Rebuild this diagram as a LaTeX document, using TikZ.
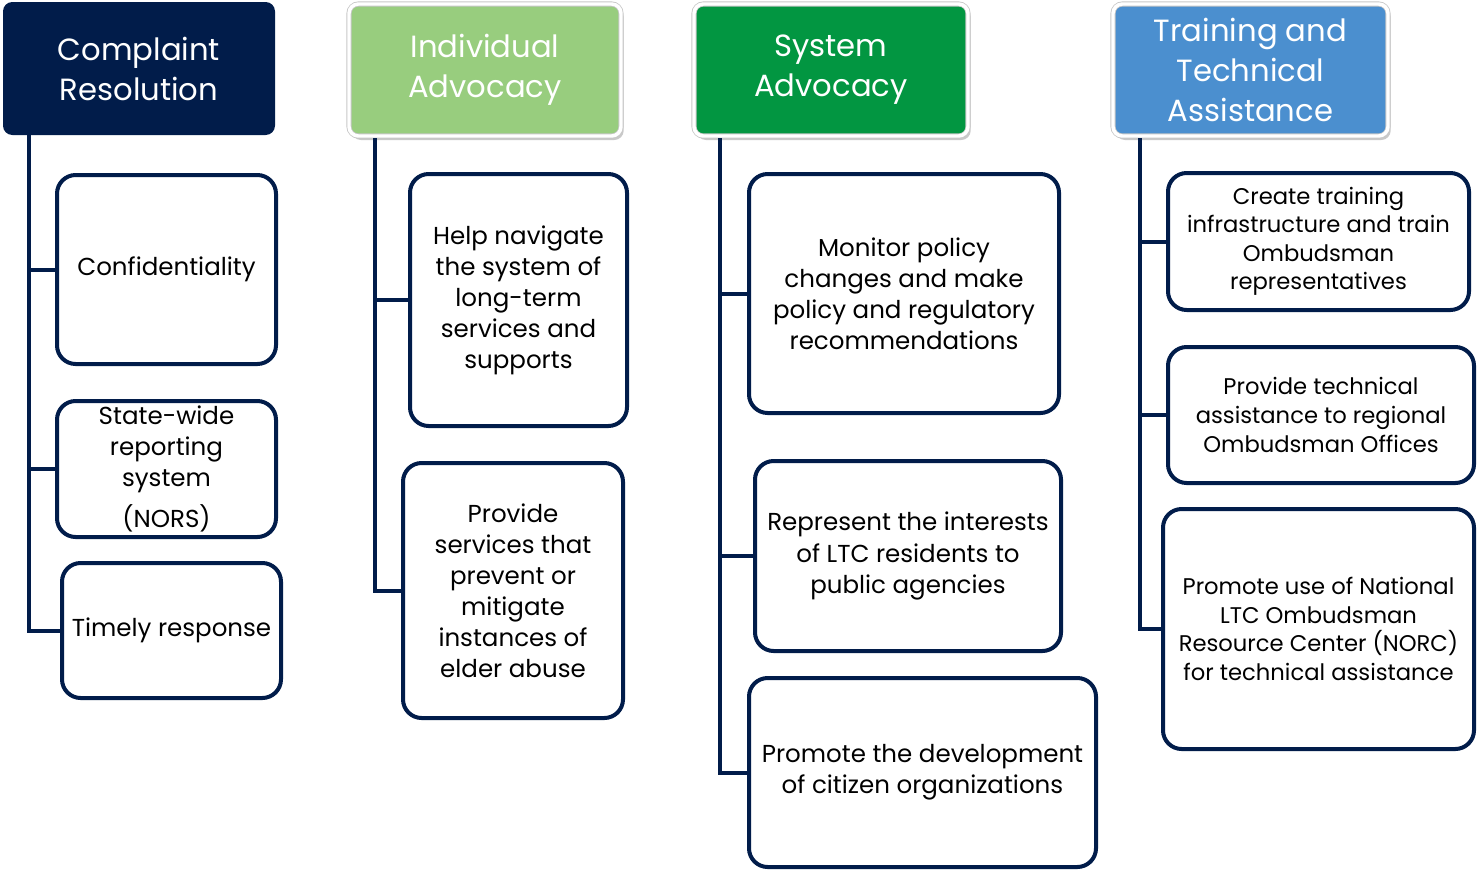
\documentclass[tikz,border=0pt]{standalone}
\usepackage{fontspec}
\setmainfont{Poppins}
\usetikzlibrary{shadows}
\definecolor{navy}{HTML}{011C4A}
\definecolor{lgreen}{HTML}{98CD7E}
\definecolor{dgreen}{HTML}{029641}
\definecolor{tblue}{HTML}{4B8FCF}
\tikzset{
  span/.style n args={4}{at={({(#1+#3)/2},{(#2+#4)/2})},
    minimum width={(#3-#1)*0.75pt}, minimum height={(#4-#2)*0.75pt}},
  hdr/.style={rounded corners=7pt, inner sep=0pt, text=white, align=center,
    font=\fontsize{23}{30}\selectfont},
  hdrsh/.style={hdr, fill=#1, draw=black!22, line width=0.6pt, double=white, double distance=2.6pt,
    drop shadow={shadow xshift=2pt, shadow yshift=-3pt, opacity=0.3, fill=black!70}},
  child/.style={draw=navy, line width=3pt, rounded corners=14pt, fill=white, inner sep=0pt,
    align=center, text=black, font=\fontsize{18.4}{23.3}\selectfont},
  childs/.style={child, font=\fontsize{17}{21.4}\selectfont},
  conn/.style={draw=navy, line width=3pt},
}
\begin{document}
\begin{tikzpicture}[x=0.75pt,y=-0.75pt]
\useasboundingbox (0,0) rectangle (1479,872);
% headers
\node[hdr, fill=navy, span={3}{2}{275}{135}] (h1) {Complaint\\Resolution};
\node[hdrsh=lgreen, span={349}{4}{621}{136}] (h2) {Individual\\Advocacy};
\node[hdrsh=dgreen, span={694}{4}{968}{136}] (h3) {System\\Advocacy};
\node[hdrsh=tblue, span={1113}{4}{1388}{136}] (h4) {Training and\\Technical\\Assistance};
% column 1
\node[child, span={57}{175}{276}{364}] (c11) {Confidentiality};
\node[child, span={57}{401}{276}{537}] (c12) {State-wide\\reporting\\system\\[8pt](NORS)};
\node[child, span={62}{563}{281}{698}] (c13) {Timely response};
% column 2
\node[child, span={410}{174}{627}{426}] (c21) {Help navigate\\the system of\\long-term\\services and\\supports};
\node[child, span={403}{463}{623}{718}] (c22) {Provide\\services that\\prevent or\\mitigate\\instances of\\elder abuse};
% column 3
\node[child, span={749}{174}{1059}{413}] (c31) {Monitor policy\\changes and make\\policy and regulatory\\recommendations};
\node[child, span={755}{461}{1061}{651}] (c32) {Represent the interests\\of LTC residents to\\public agencies};
\node[child, span={749}{678}{1096}{867}] (c33) {Promote the development\\of citizen organizations};
% column 4
\node[childs, span={1168}{173}{1469}{310}] (c41) {Create training\\infrastructure and train\\Ombudsman\\representatives};
\node[childs, span={1168}{347}{1474}{483}] (c42) {Provide technical\\assistance to regional\\Ombudsman Offices};
\node[childs, span={1163}{509}{1474}{749}] (c43) {Promote use of National\\LTC Ombudsman\\Resource Center (NORC)\\for technical assistance};
% connectors
\coordinate (t1) at (29,135);
\coordinate (t2) at (375,138);
\coordinate (t3) at (720,138);
\coordinate (t4) at (1140,138);
\draw[conn] (t1) |- (c13.west);
\draw[conn] (c11.west) -- (c11.west -| t1);
\draw[conn] (c12.west) -- (c12.west -| t1);
\draw[conn] (t2) |- (c22.west);
\draw[conn] (c21.west) -- (c21.west -| t2);
\draw[conn] (t3) |- (c33.west);
\draw[conn] (c31.west) -- (c31.west -| t3);
\draw[conn] (c32.west) -- (c32.west -| t3);
\draw[conn] (t4) |- (c43.west);
\draw[conn] (c41.west) -- (c41.west -| t4);
\draw[conn] (c42.west) -- (c42.west -| t4);
\end{tikzpicture}
\end{document}
